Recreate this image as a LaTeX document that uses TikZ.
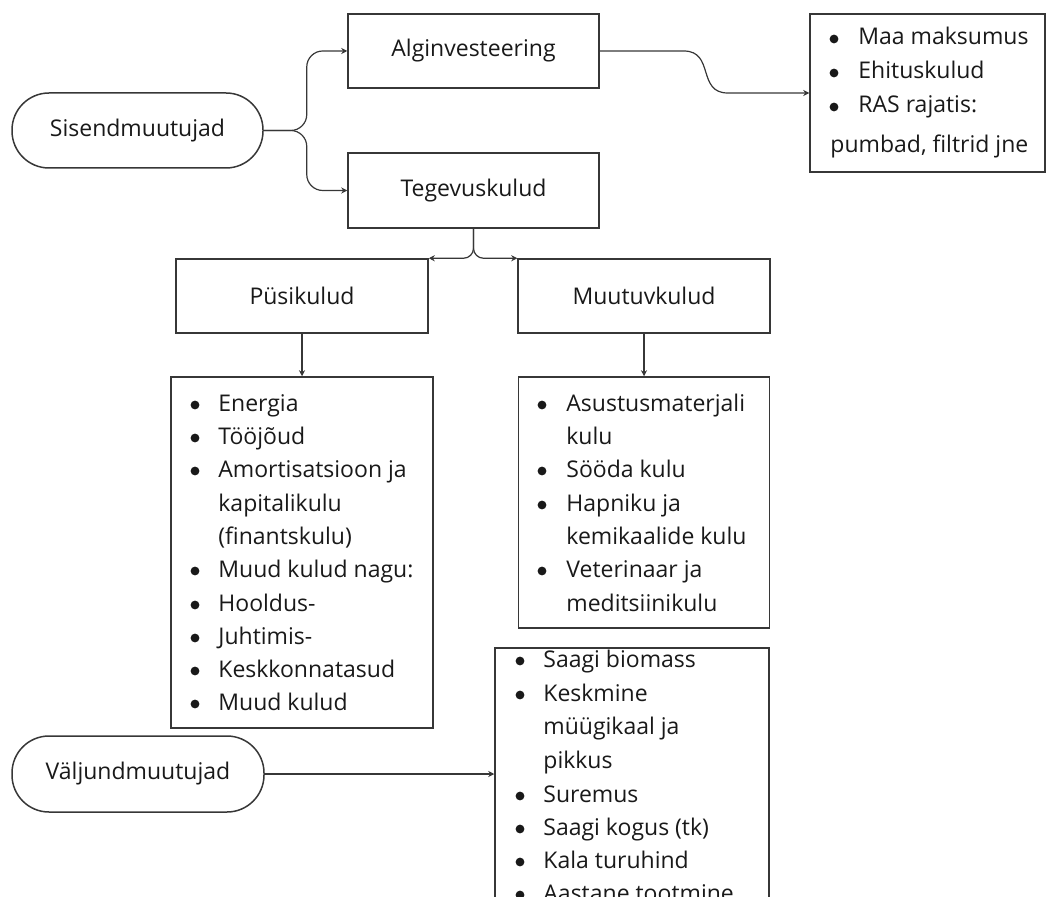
\documentclass[tikz,border=0pt]{standalone}
\usepackage{fontspec}
\setmainfont{Open Sans}
\usepackage{xcolor}
\usepackage{tikz}
\usetikzlibrary{arrows.meta}
\definecolor{ink}{RGB}{25,25,25}
\definecolor{edge}{RGB}{55,55,55}
\tikzset{
  box/.style={draw=edge, line width=0.75pt, inner sep=0pt, align=center, text=ink, font=\fontsize{11.5}{14}\selectfont},
  pill/.style={box, rounded corners=18.5pt},
  item/.style={anchor=base west, inner sep=0pt, text=ink, font=\fontsize{11.5}{14}\selectfont},
  arr/.style={-{Stealth[length=3pt,width=3pt]}, line width=0.6pt, draw=edge},
}

\begin{document}
\begin{tikzpicture}[x=0.5pt,y=-0.5pt]
    \useasboundingbox (0,0) rectangle (1047,897);
    \clip (0,0) rectangle (1047,897);
    % main boxes
    \node[pill, minimum width=125.5pt, minimum height=37.5pt] (sis) at (137.5,130.5) {Sisendmuutujad};
    \node[box, minimum width=125.5pt, minimum height=37pt] (alg) at (473.5,51) {Alginvesteering};
    \node[box, minimum width=125.5pt, minimum height=37.5pt] (teg) at (473.5,190.5) {Tegevuskulud};
    \node[box, minimum width=126pt, minimum height=37pt] (pusi) at (302,296) {Püsikulud};
    \node[box, minimum width=126pt, minimum height=37pt] (muut) at (644,296) {Muutuvkulud};
    \node[pill, minimum width=126pt, minimum height=38pt] (valj) at (138,774) {Väljundmuutujad};
    % list boxes
    \node[box, minimum width=117.5pt, minimum height=79pt] (inv) at (927.5,93) {};
    \node[box, minimum width=131pt, minimum height=175.5pt] (pusil) at (302,552.5) {};
    \node[box, minimum width=125.5pt, minimum height=125.5pt] (muutl) at (644,502.5) {};
    \node[box, minimum width=137pt, minimum height=126pt] (saak) at (632,774) {};

    \foreach \y/\b/\t in {39/1/Maa maksumus, 73/1/Ehituskulud, 107/1/RAS rajatis:}{
      \fill[ink] (834,\y) circle (4.4);
      \node[item] (inv\y) at (858,\y+6) {\t};
    }
    \node[item] (inv147) at (830,153) {pumbad, filtrid jne};

    \foreach \y/\b/\t in {405/1/Energia, 438/1/Tööjõud, 471/1/Amortisatsioon ja, 505/0/kapitalikulu,
      538/0/(finantskulu), 571/1/Muud kulud nagu:, 605/1/Hooldus-, 638/1/Juhtimis-, 671/1/Keskkonnatasud, 704/1/Muud kulud}{
      \ifnum\b=1 \fill[ink] (195,\y) circle (4.4); \fi
      \node[item] (pusil\y) at (218,\y+6) {\t};
    }

    \foreach \y/\b/\t in {405/1/Asustusmaterjali, 438/0/kulu, 471/1/Sööda kulu, 505/1/Hapniku ja,
      538/0/kemikaalide kulu, 571/1/Veterinaar ja, 605/0/meditsiinikulu}{
      \ifnum\b=1 \fill[ink] (542,\y) circle (4.4); \fi
      \node[item] (muutl\y) at (566,\y+6) {\t};
    }

    \foreach \y/\b/\t in {661/1/Saagi biomass, 695/1/Keskmine, 728/0/müügikaal ja, 762/0/pikkus,
      796/1/Suremus, 829/1/Saagi kogus (tk), 862/1/Kala turuhind, 895/1/Aastane tootmine}{
      \ifnum\b=1 \fill[ink] (520,\y) circle (4.4); \fi
      \node[item] (saak\y) at (543,\y+6) {\t};
    }

    % connectors
    \draw[arr, rounded corners=8pt] (sis.east) -- ++(43,0) |- (alg.west);
    \draw[arr, rounded corners=8pt] (sis.east) -- ++(43,0) |- (teg.west);
    \draw[arr] (alg.east) -- ++(84,0) to[out=0,in=180,looseness=1.3] ++(44,42) -- (inv.west);
    \draw[arr, rounded corners=5pt] (teg.south) |- (pusi.north east);
    \draw[arr, rounded corners=5pt] (teg.south) |- (muut.north west);
    \draw[arr] (pusi.south) -- (pusil.north);
    \draw[arr] (muut.south) -- (muutl.north);
    \draw[arr] (valj.east) -- (saak.west);
  \end{tikzpicture}
\end{document}
